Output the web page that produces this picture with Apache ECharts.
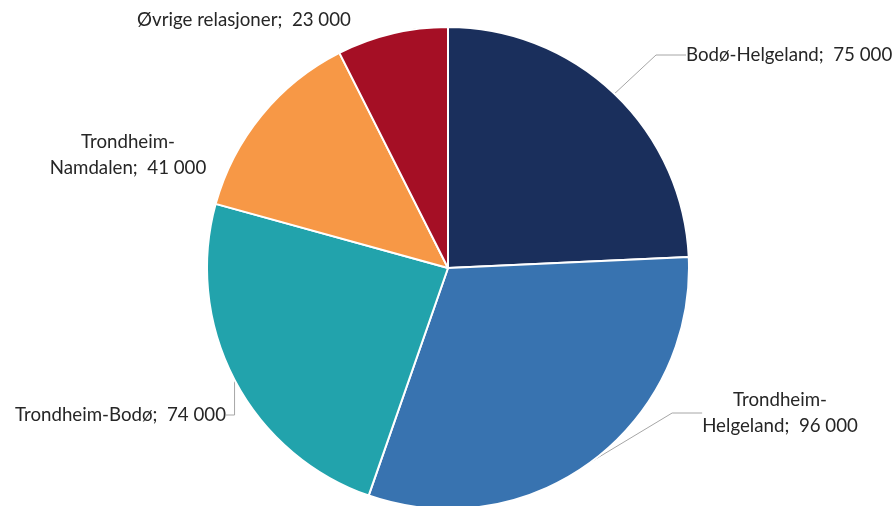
<!DOCTYPE html>
<html>
<head>
<meta charset="utf-8">
<script src="https://cdn.jsdelivr.net/npm/echarts@6/dist/echarts.min.js"></script>
<style>
  html, body { margin: 0; padding: 0; background: #fff; }
  #chart { width: 893px; height: 506px; }
</style>
</head>
<body>
<div id="chart"></div>
<script>
// data
const categories = ['Bodø-Helgeland', 'Trondheim-\nHelgeland', 'Trondheim-Bodø', 'Trondheim-\nNamdalen', 'Øvrige relasjoner']
const values = [75000, 96000, 74000, 41000, 23000]
const colors = ['#1a2f5c', '#3873b0', '#22a3ac', '#f79846', '#a50f25']

// label anchors (px) and alignment
const labelPos = [
  { x: 686, y: 55, align: 'left' },
  { x: 780, y: 413, align: 'center' },
  { x: 226, y: 415, align: 'right' },
  { x: 128, y: 155, align: 'center' },
  { x: 244, y: 20, align: 'center' }
]
const showLine = [true, true, true, false, false]

function fmt(v) {
  return String(v).replace(/\B(?=(\d{3})+(?!\d))/g, ' ')
}

const chart = echarts.init(document.getElementById('chart'))
chart.setOption({
  animation: false,
  series: [
    {
      type: 'pie',
      center: [448, 268],
      radius: 241,
      startAngle: 90,
      clockwise: true,
      itemStyle: { borderColor: '#fff', borderWidth: 2 },
      label: {
        show: true,
        position: 'outside',
        color: '#262626',
        fontFamily: 'Lato',
        fontSize: 18.7,
        lineHeight: 26,
        overflow: 'none',
        formatter: p => p.name + ';  ' + fmt(p.value)
      },
      labelLine: {
        show: true,
        lineStyle: { color: '#a6a6a6', width: 1 }
      },
      labelLayout: p => ({
        x: labelPos[p.dataIndex].x,
        y: labelPos[p.dataIndex].y,
        align: labelPos[p.dataIndex].align,
        verticalAlign: 'middle'
      }),
      data: values.map((v, i) => ({
        name: categories[i],
        value: v,
        itemStyle: { color: colors[i] },
        labelLine: { show: showLine[i] }
      }))
    }
  ]
})
</script>
</body>
</html>
